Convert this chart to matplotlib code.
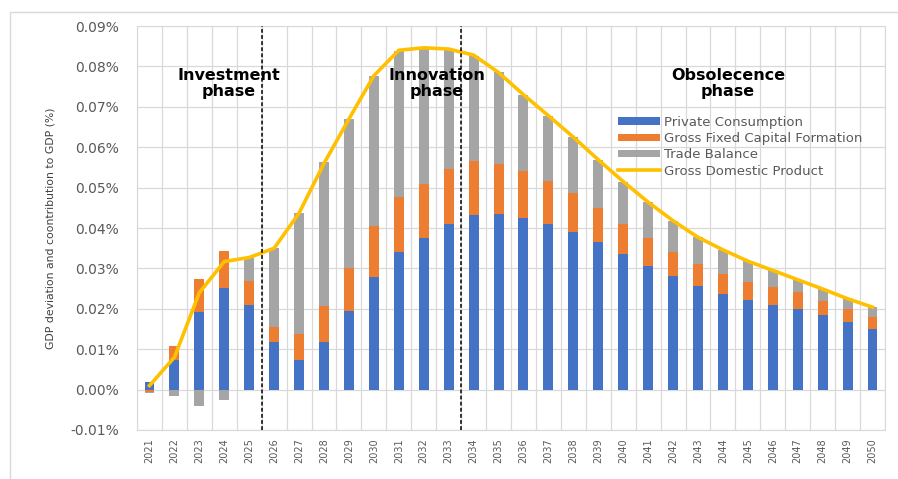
import numpy as np
import matplotlib

matplotlib.use("Agg")
import matplotlib.pyplot as plt
from matplotlib.patches import Rectangle
from matplotlib.ticker import FuncFormatter, MultipleLocator

years = [str(y) for y in range(2021, 2051)]

# contributions to GDP deviation, in %
private_consumption = [
    0.0020, 0.0074, 0.0191, 0.0252, 0.0210, 0.0119, 0.0074, 0.0117, 0.0195, 0.0279,
    0.0341, 0.0375, 0.0410, 0.0432, 0.0435, 0.0425, 0.0411, 0.0391, 0.0365, 0.0335,
    0.0307, 0.0280, 0.0256, 0.0237, 0.0222, 0.0210, 0.0200, 0.0184, 0.0168, 0.0151,
]
gross_fixed_capital = [
    -0.0007, 0.0033, 0.0083, 0.0090, 0.0060, 0.0037, 0.0064, 0.0090, 0.0106, 0.0125,
    0.0135, 0.0133, 0.0135, 0.0134, 0.0124, 0.0115, 0.0106, 0.0096, 0.0085, 0.0075,
    0.0068, 0.0060, 0.0054, 0.0048, 0.0045, 0.0045, 0.0041, 0.0036, 0.0032, 0.0028,
]
trade_balance = [
    -0.0002, -0.0017, -0.0041, -0.0026, 0.0057, 0.0195, 0.0299, 0.0356, 0.0368, 0.0373,
    0.0363, 0.0338, 0.0297, 0.0261, 0.0226, 0.0190, 0.0161, 0.0138, 0.0119, 0.0105,
    0.0089, 0.0078, 0.0067, 0.0061, 0.0051, 0.0040, 0.0031, 0.0029, 0.0025, 0.0025,
]
gdp = [
    0.0010, 0.0080, 0.0240, 0.0317, 0.0327, 0.0350, 0.0437, 0.0560, 0.0670, 0.0777,
    0.0840, 0.0846, 0.0843, 0.0828, 0.0785, 0.0730, 0.0678, 0.0625, 0.0569, 0.0515,
    0.0464, 0.0418, 0.0377, 0.0346, 0.0318, 0.0295, 0.0272, 0.0249, 0.0225, 0.0204,
]

phases = ["Investment\nphase", "Innovation\nphase", "Obsolecence\nphase"]

BLUE = "#4472C4"
ORANGE = "#ED7D31"
GREY = "#A5A5A5"
GOLD = "#FFC000"
TXT = "#595959"

fig = plt.figure(figsize=(8.98, 4.79), dpi=100)
ax = fig.add_axes([0.1526, 0.1023, 0.8329, 0.8434])

# outer chart border
fig.patches.append(Rectangle((10 / 898, -0.01), 1.0, 1 - 12 / 479 + 0.01,
                             transform=fig.transFigure, fill=False,
                             edgecolor="#d9d9d9", lw=1.0))

x = np.arange(len(years))
pos = np.zeros(len(years))
neg = np.zeros(len(years))
handles = []
for vals, col, lab in [
    (private_consumption, BLUE, "Private Consumption"),
    (gross_fixed_capital, ORANGE, "Gross Fixed Capital Formation"),
    (trade_balance, GREY, "Trade Balance"),
]:
    v = np.array(vals)
    bottom = np.where(v >= 0, pos, neg)
    handles.append(ax.bar(x, v, 0.4, bottom=bottom, color=col, label=lab, zorder=2))
    pos = pos + np.clip(v, 0, None)
    neg = neg + np.clip(v, None, 0)

line, = ax.plot(x, gdp, color=GOLD, lw=2.6, solid_joinstyle="round",
                label="Gross Domestic Product", zorder=3)
handles.append(line)

# phase separators
for b in (4.5, 12.5):
    ax.axvline(b, color="black", lw=1.1, ls=(0, (2.5, 1.5)), zorder=4)

for xc, txt in zip((3.19, 11.52, 23.2), phases):
    ax.text(xc, 0.0757, txt, ha="center", va="center", fontsize=11.5,
            fontweight="bold", zorder=5, linespacing=1.05)

ax.set_xlim(-0.5, len(years) - 0.5)
ax.set_ylim(-0.01, 0.09)
ax.yaxis.set_major_locator(MultipleLocator(0.01))
ax.yaxis.set_major_formatter(FuncFormatter(lambda v, _: f"{v:.2f}%"))
ax.set_xticks(x)
ax.set_xticklabels(years, rotation=90, fontsize=7, color=TXT)
ax.set_xticks(np.arange(-0.5, len(years)), minor=True)
ax.tick_params(axis="x", which="both", length=0, pad=6)
ax.tick_params(axis="y", length=0, labelsize=10, labelcolor=TXT, pad=13)
ax.grid(axis="y", color="#d9d9d9", lw=0.9, zorder=0)
ax.grid(axis="x", which="minor", color="#d9d9d9", lw=0.9, zorder=0)
ax.set_axisbelow(True)
for s in ax.spines.values():
    s.set_color("#d9d9d9")

fig.text(0.056, 0.524, "GDP deviation and coontribution to GDP (%)", rotation=90,
         ha="center", va="center", fontsize=7.8, color="#404040")

leg = ax.legend(handles=handles, loc="upper left", bbox_to_anchor=(0.643, 0.778),
                frameon=False, fontsize=9.5, handlelength=3.2, handleheight=0.5,
                labelspacing=0.25, handletextpad=0.3, borderaxespad=0,
                borderpad=0)
for t in leg.get_texts():
    t.set_color(TXT)

fig.savefig("out.png", dpi=100)
